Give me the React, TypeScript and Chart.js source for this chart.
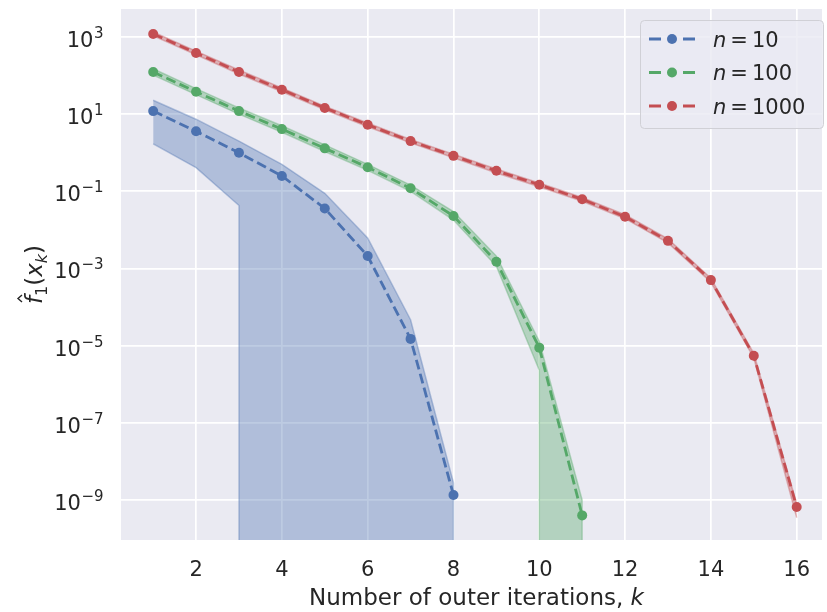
import React, { useEffect, useRef } from "react";
import { Chart, registerables } from "chart.js";

Chart.register(...registerables);

// ---- data ----
const iterations = [1, 2, 3, 4, 5, 6, 7, 8, 9, 10, 11, 12, 13, 14, 15, 16];
// effective zero for the lower bound of a band on the log axis (log scale cannot hold 0)
const ZERO = 1e-30;

// n = 10
const blueVals = [12, 3.6, 1.0, 0.25, 0.036, 0.0021, 1.5e-5, 1.35e-9];
const blueBandX = [1, 2, 3, 3, 4, 5, 6, 7, 8, 8];
const blueUpper = [23, 7.4, 2.0, 2.0, 0.5, 0.089, 0.0062, 4.7e-5, 2.8e-9, ZERO];
const blueLower = [1.7, 0.41, 0.043, ZERO, ZERO, ZERO, ZERO, ZERO, ZERO, ZERO];

// n = 100
const greenVals = [124, 38, 12, 4.1, 1.3, 0.42, 0.12, 0.023, 0.0015, 8.9e-6, 4e-10];
const greenBandX = [1, 2, 3, 4, 5, 6, 7, 8, 9, 10, 10, 11, 11];
const greenUpper = [150, 46, 14.5, 5.0, 1.6, 0.5, 0.145, 0.03, 0.0021, 1.3e-5, 1.3e-5, 1.0e-9, ZERO];
const greenLower = [103, 32, 10, 3.4, 1.08, 0.35, 0.1, 0.018, 0.00115, 2.3e-6, ZERO, ZERO, ZERO];

// n = 1000
const redVals = [1200, 385, 124, 43, 14.5, 5.3, 2.0, 0.83, 0.34, 0.148, 0.062, 0.022, 0.0052, 5e-4, 5.5e-6, 6.6e-10];
const redUpper = [1350, 430, 140, 48, 16, 5.9, 2.2, 0.92, 0.38, 0.165, 0.069, 0.025, 0.0059, 5.6e-4, 6.3e-6, 8e-10];
const redLower = [1070, 345, 110, 38, 13, 4.7, 1.8, 0.74, 0.3, 0.132, 0.055, 0.0195, 0.0046, 4.4e-4, 4.8e-6, 3.5e-10];

const seriesNames = ["10", "100", "1000"];
const xTickValues = [2, 4, 6, 8, 10, 12, 14, 16];
const yTickExponents = [-9, -7, -5, -3, -1, 1, 3];
const xTitle = "Number of outer iterations, ";
const xTitleVar = "k";

// ---- style ----
const BLUE = "#4C72B0";
const GREEN = "#55A868";
const RED = "#C44E52";
const BAND_ALPHA = 0.37;
const FONT = "'DejaVu Sans', sans-serif";
const TEXT = "#262626";
const BG = "#EAEAF2";

function hexA(hex: string, a: number) {
  const r = parseInt(hex.slice(1, 3), 16);
  const g = parseInt(hex.slice(3, 5), 16);
  const b = parseInt(hex.slice(5, 7), 16);
  return `rgba(${r},${g},${b},${a})`;
}

const pts = (xs: number[], ys: number[]) => ys.map((y, i) => ({ x: xs[i], y }));

function bandPair(xs: number[], up: number[], lo: number[], color: string, lowerIndex: number, order: number) {
  const lower = {
    data: pts(xs, lo),
    borderColor: hexA(color, BAND_ALPHA),
    borderWidth: 1.5,
    pointRadius: 0,
    fill: false,
    order,
  };
  const upper = {
    data: pts(xs, up),
    borderColor: hexA(color, BAND_ALPHA),
    backgroundColor: hexA(color, BAND_ALPHA),
    borderWidth: 1.5,
    pointRadius: 0,
    fill: { target: lowerIndex },
    order,
  };
  return [lower, upper];
}

function lineSet(vals: number[], color: string, order: number) {
  return {
    data: pts(iterations, vals),
    borderColor: color,
    backgroundColor: color,
    borderWidth: 2.8,
    borderDash: [10, 4.5],
    pointRadius: 5,
    pointBorderWidth: 0,
    pointBackgroundColor: color,
    fill: false,
    order,
  };
}

const decorPlugin = {
  id: "decor",
  beforeDraw(chart: any) {
    const { ctx, chartArea: a } = chart;
    ctx.save();
    ctx.fillStyle = "#ffffff";
    ctx.fillRect(0, 0, chart.width, chart.height);
    ctx.fillStyle = BG;
    ctx.fillRect(a.left, a.top, a.right - a.left, a.bottom - a.top);
    ctx.restore();
  },
  afterDraw(chart: any) {
    const { ctx, chartArea: a } = chart;
    const xs = chart.scales.x;
    const ys = chart.scales.y;
    ctx.save();
    ctx.fillStyle = TEXT;

    // y tick labels 10^e
    for (const e of yTickExponents) {
      const py = ys.getPixelForValue(Math.pow(10, e));
      const base = py + 10;
      const main = "10";
      const sup = e < 0 ? "\u2212" + Math.abs(e) : String(e);
      ctx.font = `21px ${FONT}`;
      const wMain = ctx.measureText(main).width;
      ctx.font = `15px ${FONT}`;
      const wSup = ctx.measureText(sup).width;
      const x0 = 103 - wMain - wSup;
      ctx.textAlign = "left";
      ctx.textBaseline = "alphabetic";
      ctx.font = `21px ${FONT}`;
      ctx.fillText(main, x0, base);
      ctx.font = `15px ${FONT}`;
      ctx.fillText(sup, x0 + wMain + 0.5, base - 9);
    }

    // x tick labels
    ctx.font = `21px ${FONT}`;
    ctx.textAlign = "center";
    ctx.textBaseline = "alphabetic";
    for (const v of xTickValues) {
      const px = xs.getPixelForValue(v);
      ctx.fillText(String(v), px, 575.5);
    }

    // x title
    ctx.font = `23px ${FONT}`;
    const w1 = ctx.measureText(xTitle).width;
    ctx.font = `italic 23px ${FONT}`;
    const w2 = ctx.measureText(xTitleVar).width;
    const cx = (a.left + 832) / 2;
    const tx = cx - (w1 + w2) / 2;
    ctx.textAlign = "left";
    ctx.font = `23px ${FONT}`;
    ctx.fillText(xTitle, tx, 605);
    ctx.font = `italic 23px ${FONT}`;
    ctx.fillText(xTitleVar, tx + w1, 605);

    // y title: f-hat_1(x_k)
    ctx.save();
    ctx.translate(42, (a.top + a.bottom) / 2);
    ctx.rotate(-Math.PI / 2);
    const parts = [
      { t: "f", f: `italic 23px ${FONT}`, dy: 0 },
      { t: "1", f: `16px ${FONT}`, dy: 5 },
      { t: "(", f: `23px ${FONT}`, dy: 0 },
      { t: "x", f: `italic 23px ${FONT}`, dy: 0 },
      { t: "k", f: `italic 16px ${FONT}`, dy: 5 },
      { t: ")", f: `23px ${FONT}`, dy: 0 },
    ];
    let total = 0;
    const widths: number[] = [];
    for (const p of parts) {
      ctx.font = p.f;
      const w = ctx.measureText(p.t).width;
      widths.push(w);
      total += w;
    }
    let px = -total / 2;
    ctx.textAlign = "left";
    parts.forEach((p, i) => {
      ctx.font = p.f;
      ctx.fillText(p.t, px, p.dy);
      if (i === 0) {
        // hat accent
        const hx = px + widths[0] / 2 + 1.5;
        ctx.save();
        ctx.strokeStyle = TEXT;
        ctx.lineWidth = 1.4;
        ctx.beginPath();
        ctx.moveTo(hx - 3.5, -20);
        ctx.lineTo(hx, -24);
        ctx.lineTo(hx + 3.5, -20);
        ctx.stroke();
        ctx.restore();
      }
      px += widths[i];
    });
    ctx.restore();

    // legend
    const bx = 640.5, by = 20.5, bw = 183, bh = 108;
    ctx.beginPath();
    ctx.roundRect(bx, by, bw, bh, 4);
    ctx.fillStyle = "rgba(234,234,242,0.8)";
    ctx.fill();
    ctx.strokeStyle = "#d0d0d6";
    ctx.lineWidth = 1;
    ctx.stroke();
    const cols = [BLUE, GREEN, RED];
    seriesNames.forEach((name, i) => {
      const ry = 39 + i * 33.5;
      const c = cols[i];
      ctx.strokeStyle = c;
      ctx.lineWidth = 2.8;
      ctx.setLineDash([]);
      ctx.beginPath();
      ctx.moveTo(649, ry);
      ctx.lineTo(661, ry);
      ctx.moveTo(683, ry);
      ctx.lineTo(695, ry);
      ctx.stroke();
      ctx.fillStyle = c;
      ctx.beginPath();
      ctx.arc(672, ry, 5, 0, Math.PI * 2);
      ctx.fill();
      ctx.fillStyle = TEXT;
      ctx.textAlign = "left";
      ctx.textBaseline = "alphabetic";
      let lx = 713;
      ctx.font = `italic 21px ${FONT}`;
      ctx.fillText("n", lx, ry + 7.6);
      lx += ctx.measureText("n").width + 4;
      ctx.font = `21px ${FONT}`;
      ctx.fillText("=", lx, ry + 7.6);
      lx += ctx.measureText("=").width + 4;
      ctx.fillText(name, lx, ry + 7.6);
    });

    ctx.restore();
  },
};

export default function App() {
  const ref = useRef<HTMLCanvasElement | null>(null);

  useEffect(() => {
    document.body.style.margin = "0";
    const canvas = ref.current;
    if (!canvas) return;

    const datasets: any[] = [
      ...bandPair(blueBandX, blueUpper, blueLower, BLUE, 0, 5),
      ...bandPair(greenBandX, greenUpper, greenLower, GREEN, 2, 4),
      ...bandPair(iterations, redUpper, redLower, RED, 4, 3),
      lineSet(blueVals, BLUE, 2),
      lineSet(greenVals, GREEN, 1),
      lineSet(redVals, RED, 0),
    ];

    const chart = new Chart(canvas, {
      type: "line",
      data: { datasets },
      plugins: [decorPlugin],
      options: {
        animation: false,
        responsive: false,
        devicePixelRatio: 1,
        layout: { padding: { top: 9, left: 0, right: 0, bottom: 0 } },
        plugins: { legend: { display: false }, tooltip: { enabled: false } },
        elements: { line: { tension: 0 } },
        scales: {
          x: {
            type: "linear",
            min: 0.25,
            max: 16.59,
            border: { display: false },
            grid: { color: "#ffffff", lineWidth: 1.7, drawTicks: false },
            ticks: { display: false },
            afterBuildTicks: (s: any) => {
              s.ticks = xTickValues.map((v) => ({ value: v }));
            },
            afterFit: (s: any) => {
              s.height = 72;
            },
          },
          y: {
            type: "logarithmic",
            min: Math.pow(10, -10.036),
            max: Math.pow(10, 3.725),
            border: { display: false },
            grid: { color: "#ffffff", lineWidth: 1.7, drawTicks: false },
            ticks: { display: false },
            afterBuildTicks: (s: any) => {
              s.ticks = yTickExponents.map((e) => ({ value: Math.pow(10, e) }));
            },
            afterFit: (s: any) => {
              s.width = 121;
            },
          },
        },
      } as any,
    });

    return () => chart.destroy();
  }, []);

  return (
    <div style={{ width: 827, height: 612 }}>
      <canvas ref={ref} width={827} height={612} style={{ display: "block" }} />
    </div>
  );
}
